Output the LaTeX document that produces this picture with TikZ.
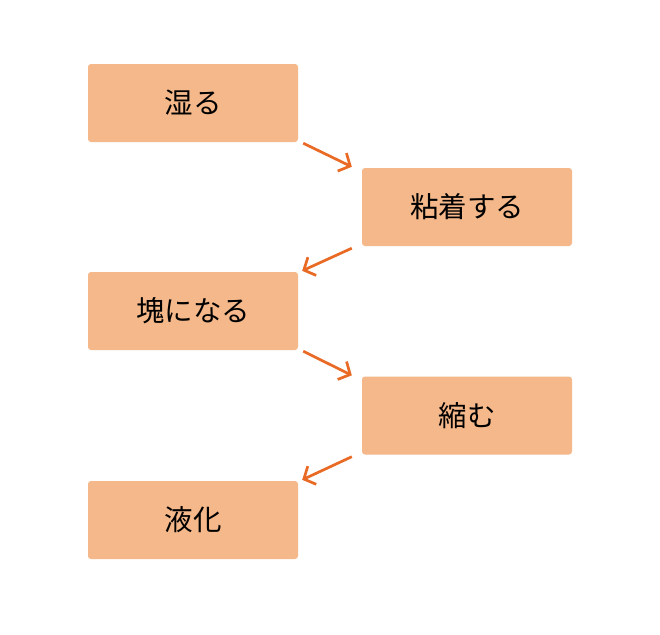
\documentclass[tikz,border=0pt]{standalone}
\usepackage{fontspec}
\newfontfamily\jp{Noto Sans CJK JP}
\usetikzlibrary{arrows.meta}
\definecolor{boxfill}{HTML}{F4B88A}
\definecolor{arrowc}{HTML}{E86A24}
\tikzset{
  stepbox/.style={fill=boxfill, minimum width=210pt, minimum height=78pt, inner sep=0pt, rounded corners=3pt, font=\jp\fontsize{28.5}{28.5}\selectfont, text=black},
  conn/.style={draw=arrowc, line width=2.7pt, -{Straight Barb[length=9pt,width=20pt,line width=2.7pt]}}
}
\begin{document}
\begin{tikzpicture}[x=1pt,y=-1pt]
\useasboundingbox[fill=white] (0,0) rectangle (660,634);
\node[stepbox] (b1) at (193,103) {湿る};
\node[stepbox] (b2) at (467,207) {粘着する};
\node[stepbox] (b3) at (193,311) {塊になる};
\node[stepbox] (b4) at (467,415.5) {縮む};
\node[stepbox] (b5) at (193,520) {液化};
\draw[conn] ([shift={(5,1)}]b1.south east) -- ([shift={(-10,-1)}]b2.north west);
\draw[conn] ([shift={(-10,2)}]b2.south west) -- ([shift={(4,-1)}]b3.north east);
\draw[conn] ([shift={(5,1)}]b3.south east) -- ([shift={(-10,-1)}]b4.north west);
\draw[conn] ([shift={(-10,2)}]b4.south west) -- ([shift={(4,-1)}]b5.north east);
\end{tikzpicture}
\end{document}
